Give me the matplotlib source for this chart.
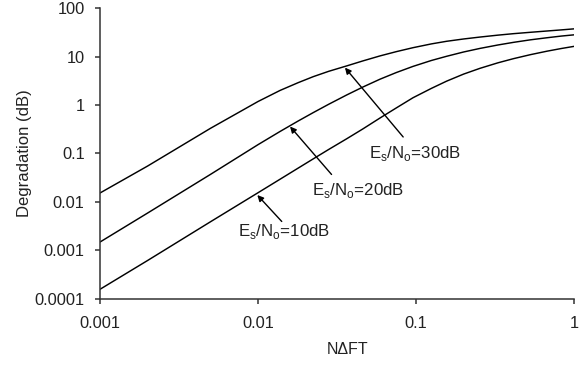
import numpy as np
import matplotlib
matplotlib.use("Agg")
import matplotlib.pyplot as plt
from matplotlib.ticker import FixedLocator, FixedFormatter, NullLocator

plt.rcParams['font.family'] = ['Liberation Sans', 'DejaVu Sans']
plt.rcParams['mathtext.fontset'] = 'custom'
plt.rcParams['mathtext.rm'] = 'Liberation Sans'

# N*dF*T values
ndft = [0.001, 0.002, 0.005, 0.01, 0.0138, 0.018, 0.0224, 0.028, 0.0364,
        0.046, 0.0592, 0.075, 0.0956, 0.125, 0.156, 0.2, 0.254, 0.33,
        0.414, 0.53, 0.675, 0.83, 1.0]

# degradation (dB) for each Es/No
deg_30 = [0.0153, 0.055, 0.33, 1.18, 2.0, 2.9, 3.85, 4.95, 6.4,
          8.1, 10.3, 12.6, 15.2, 18.2, 20.6, 23.0, 25.2, 27.6,
          29.6, 31.6, 33.6, 35.4, 37.2]
deg_20 = [0.00149, 0.0059, 0.037, 0.152, 0.285, 0.47, 0.699, 1.035, 1.61,
          2.34, 3.41, 4.67, 6.25, 8.28, 10.1, 12.4, 14.7, 17.3,
          19.6, 22.1, 24.4, 26.4, 28.0]
deg_10 = [0.000158, 0.00062, 0.0039, 0.0155, 0.0295, 0.0502, 0.0777, 0.121, 0.201,
          0.32, 0.54, 0.87, 1.41, 2.2, 3.1, 4.34, 5.71, 7.42,
          9.04, 10.93, 12.89, 14.62, 16.2]

x_ticks = [0.001, 0.01, 0.1, 1]
x_labels = ["0.001", "0.01", "0.1", "1"]
y_ticks = [0.0001, 0.001, 0.01, 0.1, 1, 10, 100]
y_labels = ["0.0001", "0.001", "0.01", "0.1", "1", "10", "100"]

fig = plt.figure(figsize=(5.84, 3.65), dpi=100)
ax = fig.add_axes([0.1712, 0.181, 0.8118, 0.797])

for d in (deg_30, deg_20, deg_10):
    ax.plot(ndft, d, color="black", lw=1.05)

ax.set_xscale("log")
ax.set_yscale("log")
ax.set_xlim(0.001, 1)
ax.set_ylim(0.0001, 100)
ax.xaxis.set_major_locator(FixedLocator(x_ticks))
ax.xaxis.set_major_formatter(FixedFormatter(x_labels))
ax.yaxis.set_major_locator(FixedLocator(y_ticks))
ax.yaxis.set_major_formatter(FixedFormatter(y_labels))
ax.xaxis.set_minor_locator(NullLocator())
ax.yaxis.set_minor_locator(NullLocator())

for s in ("top", "right"):
    ax.spines[s].set_visible(False)
for s in ("left", "bottom"):
    ax.spines[s].set_color("#333333")
    ax.spines[s].set_linewidth(1.1)
ax.tick_params(direction="out", length=3.6, width=1.1, color="#333333",
               labelsize=11.8, labelcolor="#222222")
ax.tick_params(axis="y", pad=7.5)
ax.tick_params(axis="x", pad=9)

ax.set_xlabel("NΔFT", fontsize=11.5, color="#222222")
ax.xaxis.set_label_coords(0.523, -0.148)
ax.set_ylabel("Degradation (dB)", fontsize=12, color="#222222")
ax.yaxis.set_label_coords(-0.143, 0.5)

arrow = dict(arrowstyle="-|>", color="black", lw=1.0, mutation_scale=9,
             shrinkA=0, shrinkB=0)

# Es/No = 30 dB
ax.annotate("", xy=(0.0355, 5.9), xytext=(0.0829, 0.219), arrowprops=arrow)
ax.text(0.0504, 0.1, r"E$_\mathrm{s}$/N$_\mathrm{o}$=30dB", fontsize=12.2,
        va="center", ha="left", color="#222222")
# Es/No = 20 dB
ax.annotate("", xy=(0.01595, 0.36), xytext=(0.0292, 0.0369), arrowprops=arrow)
ax.text(0.0219, 0.0169, r"E$_\mathrm{s}$/N$_\mathrm{o}$=20dB", fontsize=12.2,
        va="center", ha="left", color="#222222")
# Es/No = 10 dB
ax.annotate("", xy=(0.0099, 0.0139), xytext=(0.01413, 0.00396), arrowprops=arrow)
ax.text(0.00751, 0.00243, r"E$_\mathrm{s}$/N$_\mathrm{o}$=10dB", fontsize=12.2,
        va="center", ha="left", color="#222222")

fig.savefig("out.png", dpi=100)
